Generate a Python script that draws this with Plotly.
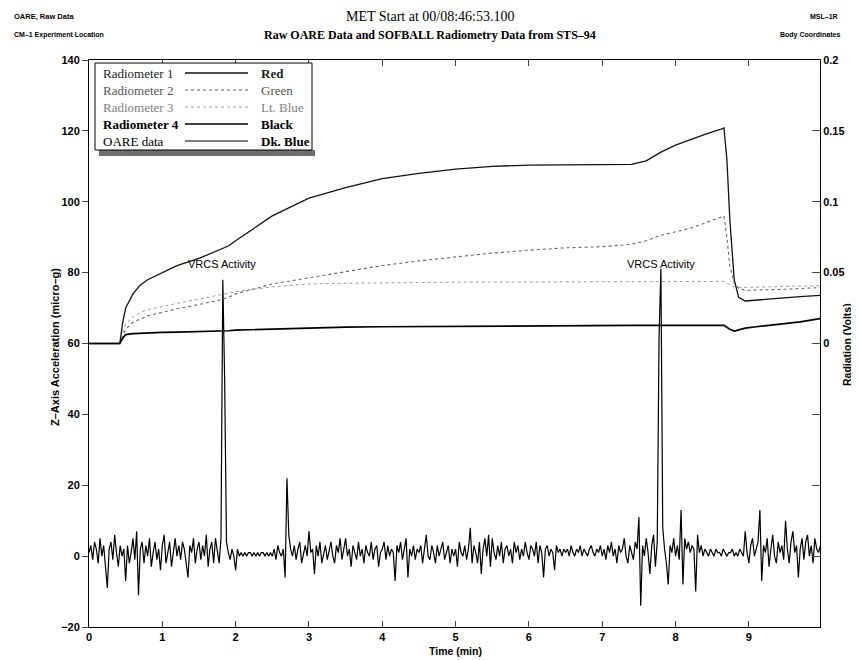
import plotly.graph_objects as go

# ---------------- data ----------------
# OARE raw Z-axis acceleration (micro-g), one reading every 0.025 min
oare_step = 0.025
oare_values = [
    1, 3, -1, 4, 2, -2, 5, 0, 3, -3,
    -9, 2, 4, -1, 6, 1, -3, 3, 0, 2,
    -7, 3, -2, 1, 5, -1, 7, -11, 2, 4,
    -2, 3, 0, 5, -3, 1, 4, -1, 2, -4,
    3, 6, -2, 1, 4, -3, 2, 5, 0, 3,
    -1, 4, 2, -2, -6, 3, 1, 5, -2, 2,
    4, -1, 3, 0, 6, -3, 2, 4, -2, 5,
    1, -2, 5, 78, 50, 4, 1, -1, 2, 0,
    -4, 2, 0, 1, 0, 1, 0, 1, 1, 0,
    1, 0, 1, 0, 1, 1, 0, 1, 0, 1,
    0, 2, -1, 3, 1, 0, 2, -6, 22, 6,
    2, 0, 3, -1, 2, 4, -2, 1, 3, 0,
    7, 1, 2, -5, 3, 0, 4, -2, 1, 3,
    -1, 2, 4, 0, -2, 3, 1, 5, -1, 2,
    5, 0, 2, -3, 3, 1, -1, 4, 0, 2,
    -2, 3, 1, 0, 4, -1, 2, 3, -3, 1,
    2, 4, -1, 3, 0, 2, 1, -7, 3, 1,
    4, -1, 2, 5, -6, 2, 0, 3, -1, 2,
    1, 3, -2, 2, 6, 0, -1, 3, 1, -2,
    3, 0, 2, 4, -1, 1, 3, -2, 2, 0,
    2, -3, 4, 1, 0, 3, -1, 2, 8, -2,
    3, 1, -2, 4, -5, 2, 5, 0, 6, -3,
    5, 1, -1, 3, 0, 4, -2, 2, 3, 0,
    2, -2, 4, 1, 3, -1, 2, 0, 4, 1,
    -1, 3, 2, 0, 4, -2, 3, 1, -6, 2,
    3, 0, 2, 1, -4, 3, 1, 2, 0, 2,
    1, 2, 0, 3, 1, 0, 2, 1, 3, 0,
    2, 1, 0, 2, 3, 1, 0, 2, 1, 3,
    0, 2, -1, 3, 1, 4, 0, 2, -2, 3,
    1, 2, 5, 0, -2, 3, 1, -1, 4, 2,
    11, -14, 3, 0, 5, 1, -5, 3, 6, -3,
    4, 62, 81, 8, 2, -2, -8, 3, 1, 5,
    0, 3, -1, 13, -8, 5, 2, 4, 1, 3,
    2, -10, 6, 1, 3, 0, 2, 1, 0, 2,
    1, 0, 2, 1, 1, 0, 2, 1, 0, 1,
    1, 2, 0, 1, 0, 2, 1, 0, 7, 1,
    -2, 3, 5, 0, 2, 4, 13, -7, 3, 1,
    5, -3, 2, 6, 0, -2, 4, 1, 3, -1,
    10, 2, -2, 4, 7, 1, 3, -6, 2, 5,
    -1, 4, 6, 0, 3, -2, 5, 2, 1, 3,
]
oare_time = [round(i * oare_step, 3) for i in range(len(oare_values))]

# SOFBALL radiometers (Volts)
rad_time = [0, 0.42, 0.46, 0.5, 0.6, 0.7, 0.8, 1.0, 1.2, 1.5, 1.8, 1.9, 2.0,
            2.5, 3.0, 3.5, 4.0, 4.5, 5.0, 5.5, 6.0, 6.5, 7.0, 7.4, 7.6, 7.8,
            8.0, 8.2, 8.4, 8.6, 8.66, 8.70, 8.74, 8.80, 8.86, 8.95, 9.1, 9.3,
            9.5, 9.7, 9.97]
rad1 = [0, 0, 0.015, 0.025, 0.035, 0.0413, 0.045, 0.05, 0.055, 0.06, 0.0663,
        0.0688, 0.0725, 0.09, 0.1025, 0.11, 0.1163, 0.12, 0.123, 0.125, 0.1258,
        0.126, 0.1263, 0.1263, 0.1288, 0.135, 0.14, 0.1438, 0.1475, 0.1508,
        0.152, 0.13, 0.0875, 0.045, 0.0325, 0.03, 0.0305, 0.0313, 0.032, 0.033,
        0.034]
rad2 = [0, 0, 0.005, 0.01, 0.015, 0.0175, 0.0195, 0.022, 0.0245, 0.0275,
        0.0308, 0.0325, 0.035, 0.042, 0.0465, 0.051, 0.055, 0.0583, 0.0613,
        0.0638, 0.0658, 0.0675, 0.0683, 0.07, 0.0725, 0.0763, 0.0788, 0.0813,
        0.085, 0.0888, 0.09, 0.075, 0.055, 0.0425, 0.0388, 0.0375, 0.0375,
        0.038, 0.0383, 0.0388, 0.0395]
rad3 = [0, 0, 0.0075, 0.0138, 0.0188, 0.0218, 0.0238, 0.0263, 0.0283, 0.0313,
        0.0345, 0.0355, 0.0365, 0.04, 0.042, 0.0425, 0.043, 0.043, 0.0433,
        0.0433, 0.0433, 0.0435, 0.0435, 0.0435, 0.0438, 0.0438, 0.0438, 0.0438,
        0.0438, 0.0438, 0.0438, 0.0425, 0.0413, 0.04, 0.0395, 0.0395, 0.0398,
        0.04, 0.0403, 0.0405, 0.0408]
rad4 = [0, 0, 0.0038, 0.0063, 0.007, 0.0073, 0.0075, 0.0078, 0.008, 0.0083,
        0.0085, 0.009, 0.0095, 0.0103, 0.011, 0.0115, 0.0118, 0.012, 0.0123,
        0.0124, 0.0125, 0.0125, 0.0128, 0.0128, 0.0128, 0.0128, 0.0128, 0.0128,
        0.0128, 0.0128, 0.0128, 0.0115, 0.01, 0.0088, 0.0095, 0.0108, 0.0118,
        0.013, 0.014, 0.0153, 0.0175]

x_ticks = [0, 1, 2, 3, 4, 5, 6, 7, 8, 9]
y_ticks = [-20, 0, 20, 40, 60, 80, 100, 120, 140]
y2_ticks = [-0.15, -0.1, -0.05, 0, 0.05, 0.1, 0.15, 0.2]
y2_labels = ["", "", "", "0", "0.05", "0.1", "0.15", "0.2"]

legend_names = ["Radiometer 1", "Radiometer 2", "Radiometer 3", "Radiometer 4", "OARE data"]
legend_colors = ["Red", "Green", "Lt. Blue", "Black", "Dk. Blue"]
vrcs_times = [1.82, 7.80]
vrcs_level = 82.5

# ---------------- styling ----------------
line_styles = [
    dict(color="#111111", width=1.3, dash="solid"),
    dict(color="#666666", width=1.1, dash="dot"),
    dict(color="#9a9a9a", width=1.0, dash="dot"),
    dict(color="#000000", width=1.7, dash="solid"),
    dict(color="#000000", width=1.2, dash="solid"),
]
text_colors = ["#222222", "#555555", "#808080", "#000000", "#000000"]
name_weights = ["normal", "normal", "normal", "bold", "normal"]
color_weights = ["bold", "normal", "normal", "bold", "bold"]

# The page shows the figure with an 8 px body margin; positions below are page pixels.
OFF = 8
W, H = 859 - OFF, 660 - OFF
P_LEFT, P_RIGHT, P_TOP, P_BOTTOM = 89, 820, 60, 627
PW, PH = P_RIGHT - P_LEFT, P_BOTTOM - P_TOP


def px(x):
    return (x - P_LEFT) / PW


def py(y):
    return (P_BOTTOM - y) / PH


fig = go.Figure()
for v_, st in zip([rad1, rad2, rad3, rad4], line_styles[:4]):
    fig.add_trace(go.Scatter(x=rad_time, y=v_, mode="lines", line=st, yaxis="y2",
                             showlegend=False, hoverinfo="skip"))
fig.add_trace(go.Scatter(x=oare_time, y=oare_values, mode="lines",
                         line=line_styles[4], showlegend=False, hoverinfo="skip"))

tick_font = dict(family="Liberation Sans", size=11, color="black", weight="bold")
fig.update_layout(
    width=W, height=H,
    margin=dict(l=P_LEFT - OFF, r=W - (P_RIGHT - OFF), t=P_TOP - OFF, b=H - (P_BOTTOM - OFF)),
    paper_bgcolor="white", plot_bgcolor="white",
    font=dict(family="Liberation Sans", color="black"),
    xaxis=dict(range=[0, 9.97], tickvals=x_ticks, ticks="inside", ticklen=6,
               showline=True, linecolor="black", linewidth=1, mirror="ticks",
               showgrid=False, zeroline=False, tickfont=tick_font),
    yaxis=dict(range=[-20, 140], tickvals=y_ticks, ticks="outside", ticklen=6,
               showline=True, linecolor="black", linewidth=1,
               showgrid=False, zeroline=False, tickfont=tick_font),
    yaxis2=dict(range=[-0.2, 0.2], tickvals=y2_ticks, ticktext=y2_labels,
                overlaying="y", side="right", ticks="inside", ticklen=8,
                showline=True, linecolor="black", linewidth=1,
                showgrid=False, zeroline=False, tickfont=tick_font),
)


def note(text, x, y, size, family="Liberation Sans", weight="normal", color="black",
         xanchor="center", angle=0):
    return dict(text=text, x=px(x), y=py(y), xref="paper", yref="paper",
                xanchor=xanchor, yanchor="middle", showarrow=False, textangle=angle,
                font=dict(family=family, size=size, color=color, weight=weight))


ann = [
    note("MET Start at 00/08:46:53.100", 430, 17, 14, family="Liberation Serif"),
    note("Raw OARE Data and SOFBALL Radiometry Data from STS\u201394", 430, 35, 12,
         family="Liberation Serif", weight="bold"),
    note("OARE, Raw Data", 12, 17, 7.5, weight="bold", xanchor="left"),
    note("CM\u20131 Experiment Location", 12, 35, 7, weight="bold", xanchor="left"),
    note("MSL\u20131R", 840, 17, 7, weight="bold", xanchor="right"),
    note("Body Coordinates", 842, 35, 7, weight="bold", xanchor="right"),
    note("Z\u2013Axis Acceleration (micro\u2013g)", 55, 347, 11, weight="bold", angle=-90),
    note("Radiation (Volts)", 847, 345, 10.5, weight="bold", angle=-90),
    note("Time (min)", 455, 651, 10.5, weight="bold"),
]
for tv in vrcs_times:
    ann.append(dict(text="VRCS Activity", x=tv, y=vrcs_level, xref="x", yref="y",
                    xanchor="center", yanchor="middle", showarrow=False,
                    font=dict(family="Liberation Sans", size=11, color="black")))

# custom legend box (name, line sample, colour name)
row_y = [73, 90, 107, 124, 141]
box_top, box_bottom, box_left, box_right = 63, 150, 95, 312
shapes = [
    dict(type="rect", xref="paper", yref="paper", x0=px(box_left + 4), x1=px(box_right + 3),
         y0=py(box_bottom + 6), y1=py(box_bottom), fillcolor="#6e6e6e",
         line=dict(width=0), layer="above"),
    dict(type="rect", xref="paper", yref="paper", x0=px(box_left), x1=px(box_right),
         y0=py(box_bottom), y1=py(box_top), fillcolor="white",
         line=dict(color="black", width=1), layer="above"),
]
for i, ry in enumerate(row_y):
    st = line_styles[i]
    shapes.append(dict(type="line", xref="paper", yref="paper", x0=px(185), x1=px(248),
                       y0=py(ry), y1=py(ry), layer="above",
                       line=dict(color=st["color"], width=st["width"], dash=st["dash"])))
    ann.append(note(legend_names[i], 101, ry, 13, family="Liberation Serif",
                    weight=name_weights[i], color=text_colors[i], xanchor="left"))
    ann.append(note(legend_colors[i], 259, ry, 13, family="Liberation Serif",
                    weight=color_weights[i], color=text_colors[i], xanchor="left"))

fig.update_layout(annotations=ann, shapes=shapes)
fig.write_html("out.html")
